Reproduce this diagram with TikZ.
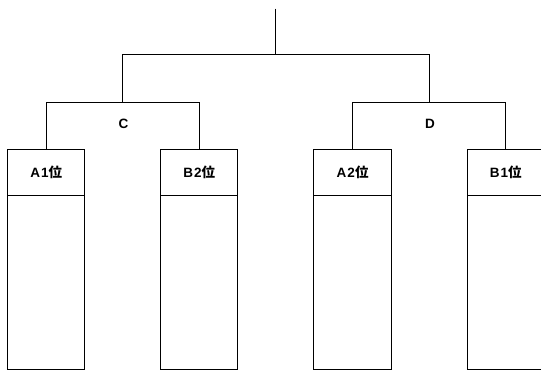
\documentclass[tikz,border=0pt]{standalone}
\usepackage{fontspec}
\setmainfont{Liberation Sans}[LetterSpace=8]
\newfontfamily\jpfont{Noto Sans CJK JP}
\usetikzlibrary{positioning}

\begin{document}
\begin{tikzpicture}[x=1pt,y=-1pt,line width=1pt,node distance=0pt]
    \tikzstyle{head}=[shape=rectangle,draw,outer sep=0pt,minimum width=77.5pt,minimum height=46.2pt,inner sep=0pt,font=\bfseries\fontsize{13.5}{15}\selectfont]
    \tikzstyle{slot}=[shape=rectangle,draw,outer sep=0pt,minimum width=77.5pt,minimum height=174.4pt,inner sep=0pt]
    \tikzstyle{team}=[font=\bfseries\fontsize{13.5}{15}\selectfont]

    \useasboundingbox (0,0) rectangle (541,371);

    \node[head] (A1) at (46.2,172.5) {A1{\jpfont\bfseries 位}};
    \node[slot, below=of A1] (A1s) {};
    \node[head] (B2) at (199.2,172.5) {B2{\jpfont\bfseries 位}};
    \node[slot, below=of B2] (B2s) {};
    \node[head] (A2) at (352.6,172.5) {A2{\jpfont\bfseries 位}};
    \node[slot, below=of A2] (A2s) {};
    \node[head] (B1) at (505.8,172.5) {B1{\jpfont\bfseries 位}};
    \node[slot, below=of B1] (B1s) {};

    \coordinate (top) at (275,8.6);
    \coordinate (final) at (275,54.5);
    \coordinate (cj) at (122.8,54.5);
    \coordinate (cb) at (122.8,102.5);
    \coordinate (dj) at (429.6,54.5);
    \coordinate (db) at (429.6,102.5);

    \node[team] (Ct) at (123.5,124) {C};
    \node[team] (Dt) at (430,124) {D};

    \path[draw]
    (top) -- (final)
    (cj) -- (dj)
    (cj) -- (cb)
    (dj) -- (db)
    (A1 |- cb) -- (B2 |- cb)
    (A1 |- cb) -- (A1.north)
    (B2 |- cb) -- (B2.north)
    (A2 |- db) -- (B1 |- db)
    (A2 |- db) -- (A2.north)
    (B1 |- db) -- (B1.north)
    ;

\end{tikzpicture}
\end{document}
